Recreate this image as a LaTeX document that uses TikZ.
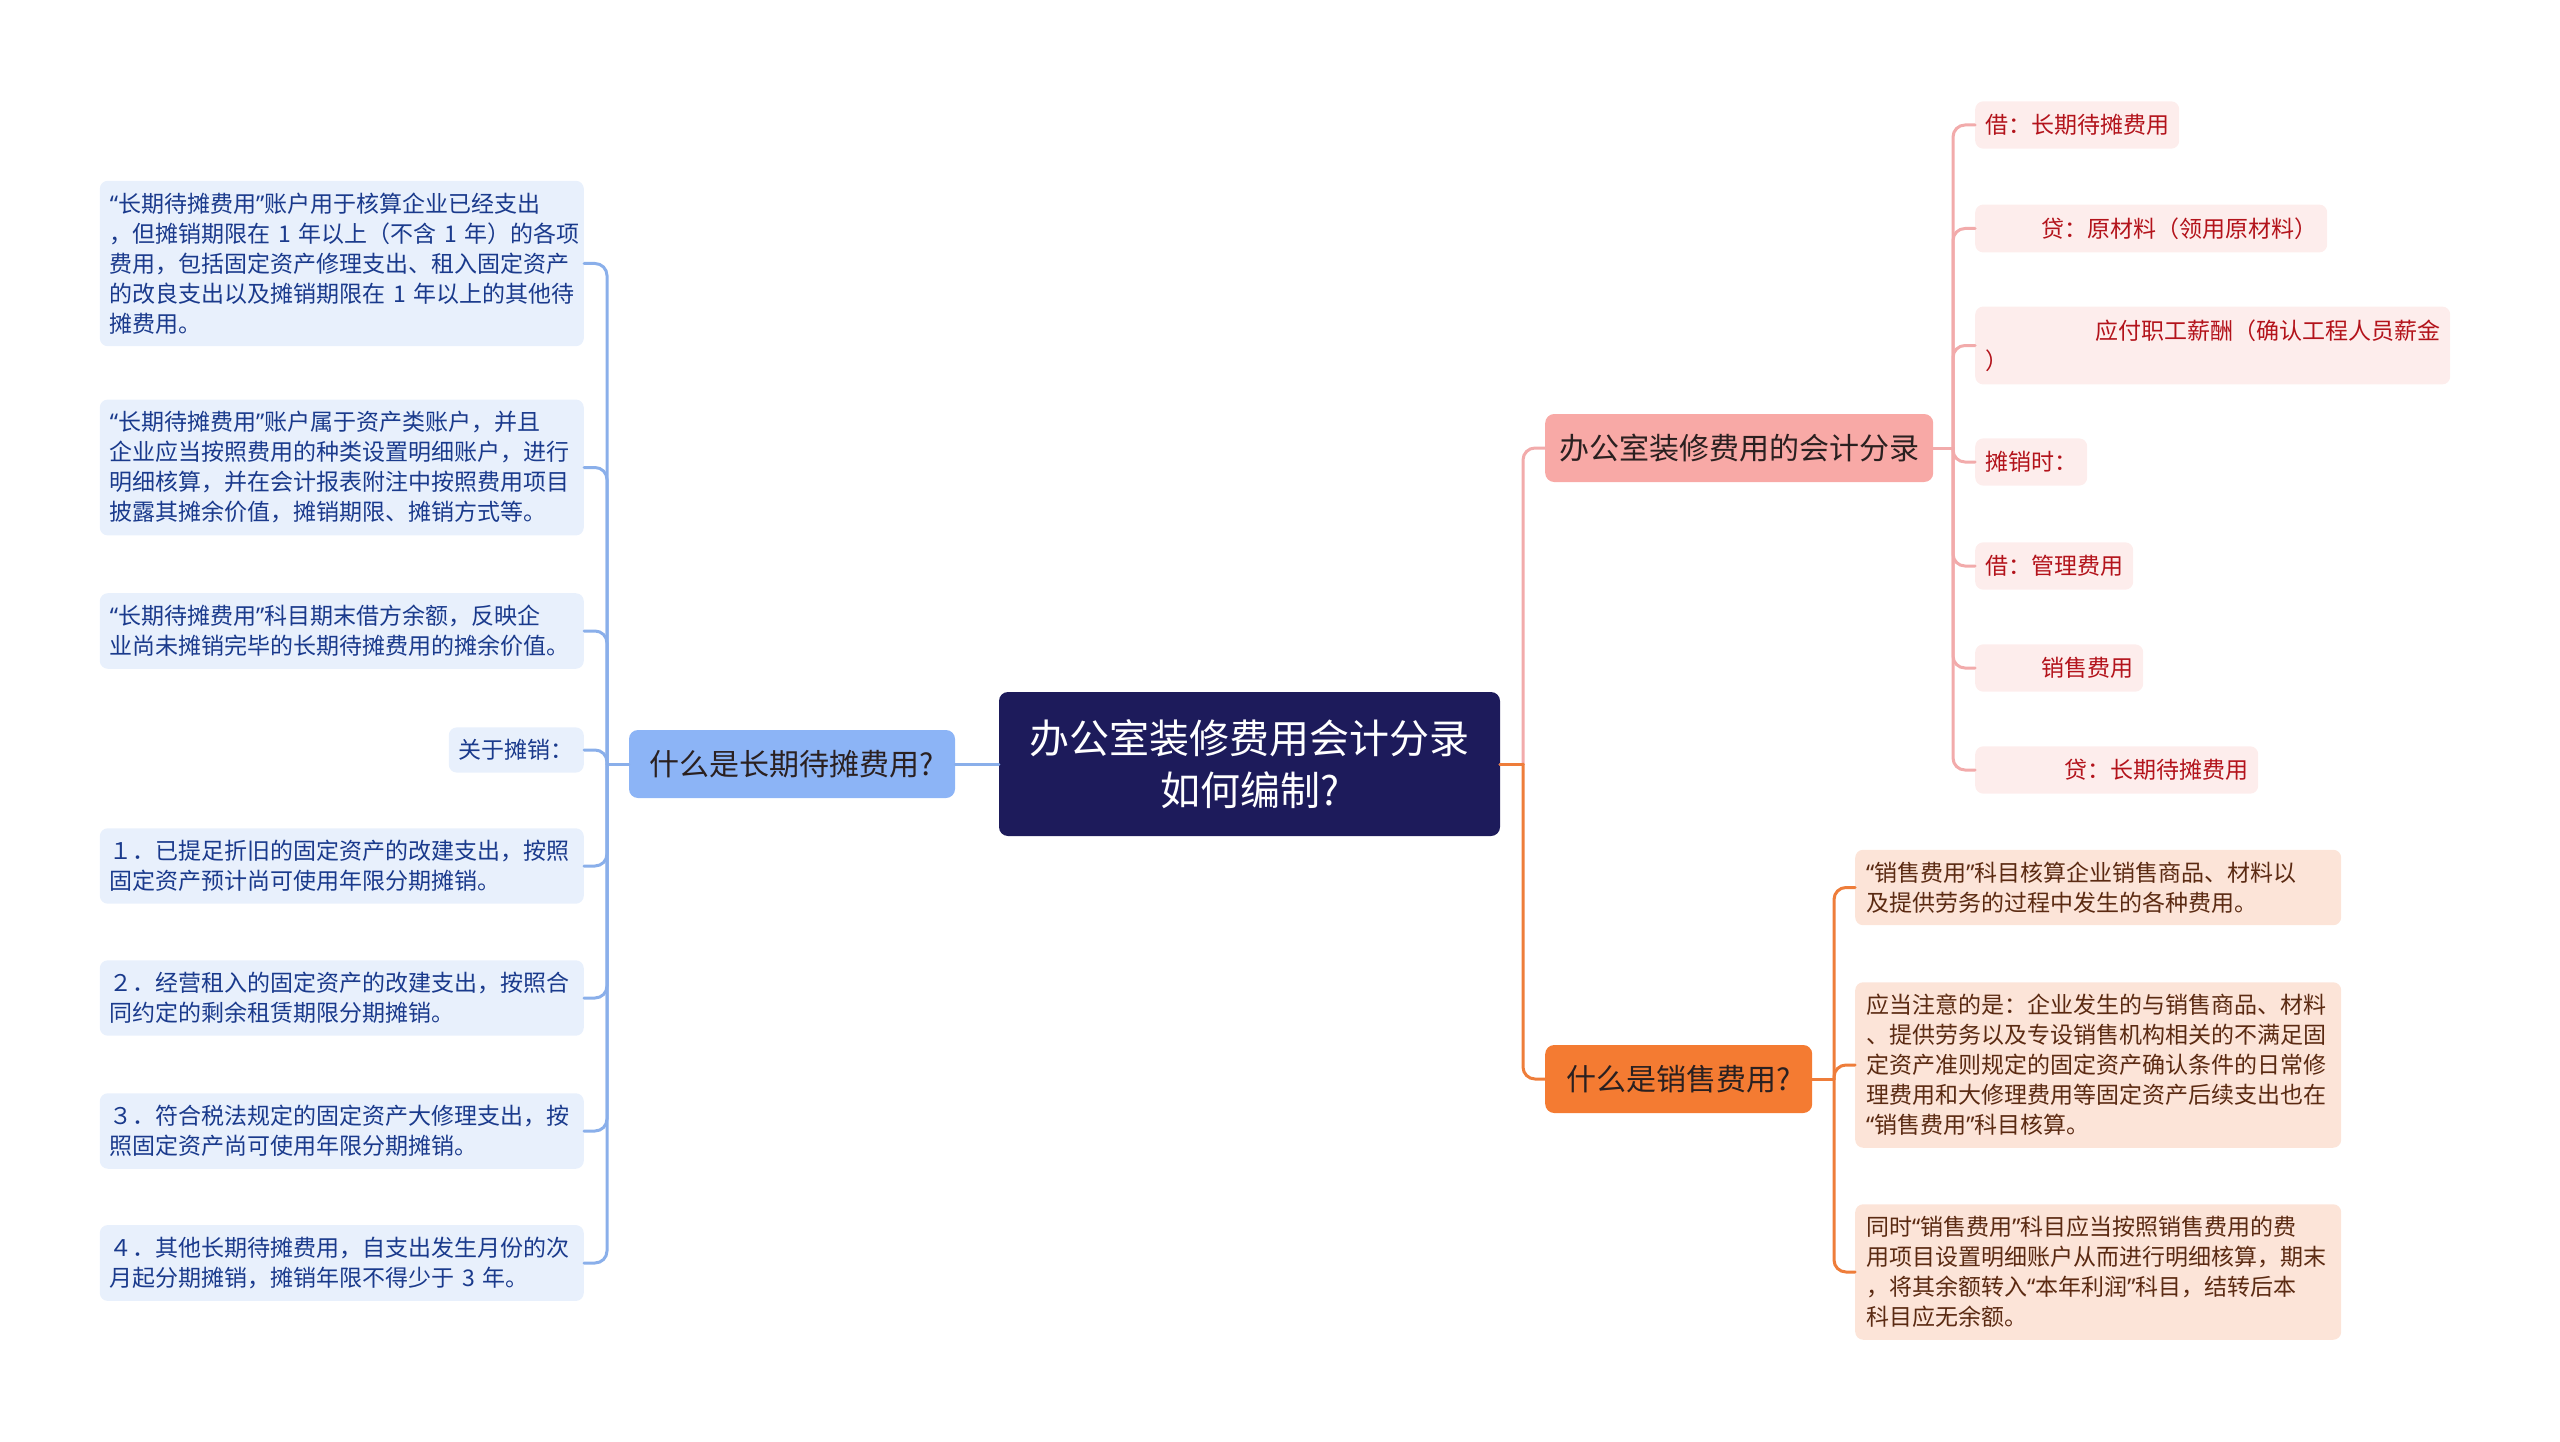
\documentclass[tikz,border=0pt]{standalone}
\usepackage{fontspec}
\setmainfont{Noto Sans CJK SC}
\newfontfamily\quotefont{Noto Sans}
\usetikzlibrary{positioning}
\definecolor{rootfill}{HTML}{1D1B5B}
\definecolor{bluefill}{HTML}{8CB4F6}
\definecolor{blueleaf}{HTML}{E8F0FC}
\definecolor{bluetext}{HTML}{1A3A8C}
\definecolor{blueline}{HTML}{8AAFEA}
\definecolor{pinkfill}{HTML}{F8A9A6}
\definecolor{pinkleaf}{HTML}{FDEDEC}
\definecolor{pinktext}{HTML}{B3131B}
\definecolor{pinkline}{HTML}{F2ABAB}
\definecolor{orangefill}{HTML}{F47B32}
\definecolor{orangeleaf}{HTML}{FCE4D8}
\definecolor{orangetext}{HTML}{5B2A12}
\definecolor{orangeline}{HTML}{EE7D3A}
\definecolor{darktext}{HTML}{2A2020}
% narrow curly quotes
\newcommand{\oq}{{\quotefont “}}
\newcommand{\cq}{{\quotefont ”}}

\tikzset{
  rootbox/.style={fill=rootfill, text=white, rounded corners=9, align=center,
    minimum width=501, minimum height=144, font=\fontsize{40}{52}\selectfont},
  topicbox/.style={rounded corners=9, minimum height=68, inner xsep=14,
    text=darktext, font=\fontsize{30}{36}\selectfont},
  leafbox/.style={rounded corners=8, align=left, inner xsep=10, inner ysep=12,
    font=\fontsize{23}{30}\selectfont},
  blueleafbox/.style={leafbox, fill=blueleaf, text=bluetext, anchor=east},
  pinkleafbox/.style={leafbox, fill=pinkleaf, text=pinktext, anchor=west, inner ysep=13},
  orangeleafbox/.style={leafbox, fill=orangeleaf, text=orangetext, anchor=west,
    inner xsep=11, text width=464},
  link/.style={line width=3, line cap=round},
  turn/.style={link, rounded corners=12},
}

\begin{document}
\begin{tikzpicture}[x=1pt, y=-1pt]
  \useasboundingbox (0,0) rectangle (2560,1442);
  % trunks
  \coordinate (ltrunk) at (607,0);
  \coordinate (rtrunk) at (1523,0);
  \coordinate (ptrunk) at (1953,0);
  \coordinate (otrunk) at (1834,0);
  % root
  \node[rootbox] (root) at (1249.5,764) {办公室装修费用会计分录\\如何编制?};
  % topics
  \node[topicbox, fill=bluefill, minimum width=326] (stake) at (792,764) {什么是长期待摊费用?};
  \node[topicbox, fill=pinkfill, minimum width=387, anchor=west] (acct) at (1545,448) {办公室装修费用的会计分录};
  \node[topicbox, fill=orangefill, minimum width=267, anchor=west] (sales) at (1545,1079) {什么是销售费用?};
  % left leaves
  \node[blueleafbox, text width=464] (l1) at (584,263.5) {\oq 长期待摊费用\cq 账户用于核算企业已经支出\\，但摊销期限在~1~年以上（不含~1~年）的各项\\费用，包括固定资产修理支出、租入固定资产\\的改良支出以及摊销期限在~1~年以上的其他待\\摊费用。};
  \node[blueleafbox, text width=464] (l2) at (584,467.5) {\oq 长期待摊费用\cq 账户属于资产类账户，并且\\企业应当按照费用的种类设置明细账户，进行\\明细核算，并在会计报表附注中按照费用项目\\披露其摊余价值，摊销期限、摊销方式等。};
  \node[blueleafbox, text width=464] (l3) at (584,631) {\oq 长期待摊费用\cq 科目期末借方余额，反映企\\业尚未摊销完毕的长期待摊费用的摊余价值。};
  \node[blueleafbox] (l4) at (584,750) {关于摊销：};
  \node[blueleafbox, text width=464] (l5) at (584,866) {１．已提足折旧的固定资产的改建支出，按照\\固定资产预计尚可使用年限分期摊销。};
  \node[blueleafbox, text width=464] (l6) at (584,998) {２．经营租入的固定资产的改建支出，按照合\\同约定的剩余租赁期限分期摊销。};
  \node[blueleafbox, text width=464] (l7) at (584,1131) {３．符合税法规定的固定资产大修理支出，按\\照固定资产尚可使用年限分期摊销。};
  \node[blueleafbox, text width=464] (l8) at (584,1263) {４．其他长期待摊费用，自支出发生月份的次\\月起分期摊销，摊销年限不得少于~3~年。};
  % pink leaves
  \node[pinkleafbox] (p1) at (1975,125) {借：长期待摊费用};
  \node[pinkleafbox] (p2) at (1975,228.5) {\hspace*{56pt}贷：原材料（领用原材料）};
  \node[pinkleafbox] (p3) at (1975,345.5) {\hspace*{110pt}应付职工薪酬（确认工程人员薪金\\）};
  \node[pinkleafbox] (p4) at (1975,462) {摊销时：};
  \node[pinkleafbox] (p5) at (1975,566) {借：管理费用};
  \node[pinkleafbox] (p6) at (1975,668) {\hspace*{56pt}销售费用};
  \node[pinkleafbox] (p7) at (1975,770) {\hspace*{79pt}贷：长期待摊费用};
  % orange leaves
  \node[orangeleafbox] (o1) at (1855,887.5) {\oq 销售费用\cq 科目核算企业销售商品、材料以\\及提供劳务的过程中发生的各种费用。};
  \node[orangeleafbox] (o2) at (1855,1065) {应当注意的是：企业发生的与销售商品、材料\\、提供劳务以及专设销售机构相关的不满足固\\定资产准则规定的固定资产确认条件的日常修\\理费用和大修理费用等固定资产后续支出也在\\\oq 销售费用\cq 科目核算。};
  \node[orangeleafbox] (o3) at (1855,1272) {同时\oq 销售费用\cq 科目应当按照销售费用的费\\用项目设置明细账户从而进行明细核算，期末\\，将其余额转入\oq 本年利润\cq 科目，结转后本\\科目应无余额。};
  % root to topics
  \draw[link, blueline] (root.west) -- (stake.east);
  \draw[link, pinkline] (root.east) -- (root.east -| rtrunk);
  \draw[turn, pinkline] (root.east -| rtrunk) |- (acct.west);
  \draw[link, orangeline] (root.east) -- (root.east -| rtrunk);
  \draw[turn, orangeline] (root.east -| rtrunk) |- (sales.west);
  % topic to leaves
  \draw[link, blueline] (stake.west) -- (stake.west -| ltrunk);
  \foreach \i in {1,...,8}
    \draw[turn, blueline] (stake.west -| ltrunk) |- (l\i.east);
  \draw[link, pinkline] (acct.east) -- (acct.east -| ptrunk);
  \foreach \i in {1,...,7}
    \draw[turn, pinkline] (acct.east -| ptrunk) |- (p\i.west);
  \draw[link, orangeline] (sales.east) -- (sales.east -| otrunk);
  \foreach \i in {1,...,3}
    \draw[turn, orangeline] (sales.east -| otrunk) |- (o\i.west);
\end{tikzpicture}
\end{document}
